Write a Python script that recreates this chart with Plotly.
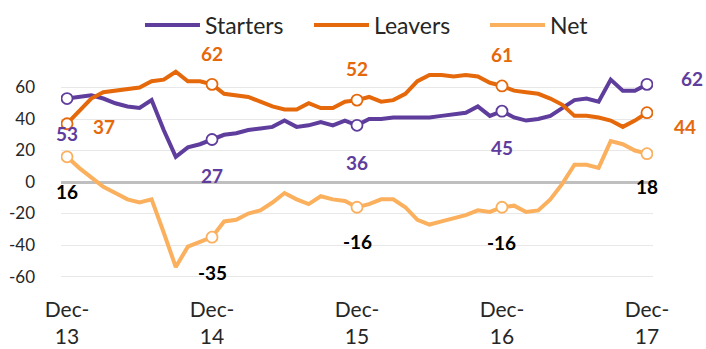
import plotly.graph_objects as go

month_abbr = ["Jan", "Feb", "Mar", "Apr", "May", "Jun", "Jul", "Aug", "Sep", "Oct", "Nov", "Dec"]
months = ["Dec-13"] + [f"{m}-{y}" for y in ["14", "15", "16", "17"] for m in month_abbr]

starters = [53, 54, 55, 53, 50, 48, 47, 52, 33, 16, 22, 24, 27,
            30, 31, 33, 34, 35, 39, 35, 36, 38, 36, 39, 36,
            40, 40, 41, 41, 41, 41, 42, 43, 44, 48, 42, 45,
            41, 39, 40, 42, 47, 52, 53, 51, 65, 58, 58, 62]
leavers = [37, 45, 53, 57, 58, 59, 60, 64, 65, 70, 64, 64, 62,
           56, 55, 54, 51, 48, 46, 46, 50, 47, 47, 51, 52,
           54, 51, 52, 56, 64, 68, 68, 67, 68, 67, 63, 61,
           58, 57, 56, 53, 49, 42, 42, 41, 39, 35, 39, 44]
net = [16, 9, 3, -3, -7, -11, -13, -11, -32, -54, -41, -38, -35,
       -25, -24, -20, -18, -13, -7, -11, -14, -9, -11, -12, -16,
       -14, -11, -11, -16, -24, -27, -25, -23, -21, -18, -19, -16,
       -15, -19, -18, -11, -1, 11, 11, 9, 26, 24, 20, 18]

label_months = ["Dec-13", "Dec-14", "Dec-15", "Dec-16", "Dec-17"]
x_tick_text = ["Dec-<br>13", "Dec-<br>14", "Dec-<br>15", "Dec-<br>16", "Dec-<br>17"]
y_tick_vals = [60, 40, 20, 0, -20, -40, -60]
y_tick_text = ["60", "40", "20", "0", "-20", "-40", "-60"]

FONT = "Lato"
C_START = "#5f3d9d"
C_LEAVE = "#e5680b"
C_NET = "#fbb05e"

series = [
    ("Starters", starters, C_START, C_START, "legend",
     [(0, -35), (0, -36), (0, -37), (0, -36), (45, 6)], 0.1334),
    ("Leavers", leavers, C_LEAVE, C_LEAVE, "legend2",
     [(37, -3), (0, 31), (0, 32), (0, 31), (38, -14)], 0.4189),
    ("Net", net, C_NET, "#000000", "legend3",
     [(0, -35), (0, -35), (0, -34), (0, -35), (0, -33)], 0.7162),
]

fig = go.Figure()
annotations = []
legends = {}
for name, vals, col, lab_col, leg, offs, legx in series:
    fig.add_trace(go.Scatter(x=months, y=vals, mode="lines", name=name, legend=leg,
                             line=dict(color=col, width=4)))
    mvals = [vals[months.index(m)] for m in label_months]
    fig.add_trace(go.Scatter(x=label_months, y=mvals, mode="markers", showlegend=False,
                             marker=dict(size=11, color="white", line=dict(color=col, width=1.8)),
                             hoverinfo="skip"))
    for m, v, (dx, dy) in zip(label_months, mvals, offs):
        annotations.append(dict(x=m, y=v, text=str(v), showarrow=False,
                                xshift=dx, yshift=dy,
                                font=dict(family=FONT, size=19, color=lab_col, weight="bold")))
    legends[leg] = dict(orientation="h", x=legx, y=1.135, xanchor="left", yanchor="middle",
                        font=dict(size=23, color="#262626"), bgcolor="rgba(0,0,0,0)",
                        itemwidth=55)

fig.update_layout(
    width=706, height=349,
    margin=dict(l=61, r=53, t=56, b=63, autoexpand=False),
    plot_bgcolor="white", paper_bgcolor="white",
    font=dict(family=FONT, color="#262626"),
    annotations=annotations,
    **legends,
)
fig.update_xaxes(type="category", categoryorder="array", categoryarray=months,
                 range=[-0.5, len(months) - 0.5], automargin=False,
                 tickvals=label_months, ticktext=x_tick_text,
                 showgrid=False, showline=False, ticks="", zeroline=False,
                 tickfont=dict(size=21, color="#262626"), ticklabelstandoff=9)
fig.update_yaxes(range=[-66, 80], tickvals=y_tick_vals, ticktext=y_tick_text,
                 automargin=False,
                 showgrid=True, gridcolor="#e8e8e8", gridwidth=1,
                 zeroline=True, zerolinecolor="#bfbfbf", zerolinewidth=2.5,
                 showline=False, ticks="", tickfont=dict(size=17, color="#262626"),
                 ticklabelstandoff=25)

fig.write_html("out.html")
